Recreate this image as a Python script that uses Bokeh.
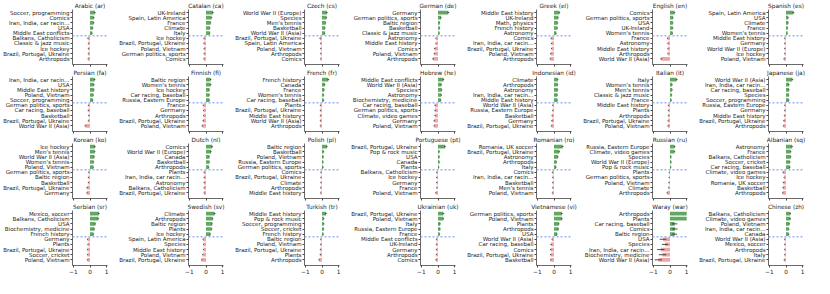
from bokeh.plotting import figure
from bokeh.layouts import gridplot
from bokeh.models import Range1d, FixedTicker, Span, ColumnDataSource
from bokeh.embed import file_html
from bokeh.resources import INLINE

titles = ["Arabic (ar)", "Catalan (ca)", "Czech (cs)", "German (de)", "Greek (el)", "English (en)", "Spanish (es)",
          "Persian (fa)", "Finnish (fi)", "French (fr)", "Hebrew (he)", "Indonesian (id)", "Italian (it)", "Japanese (ja)",
          "Korean (ko)", "Dutch (nl)", "Polish (pl)", "Portuguese (pt)", "Romanian (ro)", "Russian (ru)", "Albanian (sq)",
          "Serbian (sr)", "Swedish (sv)", "Turkish (tr)", "Ukrainian (uk)", "Vietnamese (vi)", "Waray (war)", "Chinese (zh)"]

labels = [
    ["Soccer, programming", "Comics", "Iran, India, car racin...", "USA", "Middle East conflicts",
     "Balkans, Catholicism", "Classic & jazz music", "Ice hockey", "Brazil, Portugal, Ukraine", "Arthropods"],
    ["UK-Ireland", "Spain, Latin America", "France", "Climate", "Italy",
     "Ice hockey", "Brazil, Portugal, Ukraine", "Poland, Vietnam", "German politics, sports", "Comics"],
    ["World War II (Europe)", "Species", "Men's tennis", "Basketball", "World War II (Asia)",
     "Brazil, Portugal, Ukraine", "Spain, Latin America", "Poland, Vietnam", "Arthropods", "Comics"],
    ["Germany", "German politics, sports", "Baltic region", "Basketball", "Classic & jazz music",
     "Astronomy", "Middle East history", "Comics", "Poland, Vietnam", "Arthropods"],
    ["Middle East history", "UK-Ireland", "Math, physics", "French history", "Astronomy",
     "Comics", "Iran, India, car racin...", "Brazil, Portugal, Ukraine", "Poland, Vietnam", "Arthropods"],
    ["Comics", "German politics, sports", "USA", "UK-Ireland", "Women's tennis",
     "France", "Astronomy", "Middle East history", "Arthropods", "World War II (Asia)"],
    ["Spain, Latin America", "USA", "Climate", "France", "Women's tennis",
     "Middle East history", "Germany", "World War II (Europe)", "Ice hockey", "Poland, Vietnam"],
    ["Iran, India, car racin...", "USA", "Middle East history", "Poland, Vietnam", "Soccer, programming",
     "German politics, sports", "Car racing, baseball", "Basketball", "Brazil, Portugal, Ukraine", "World War II (Asia)"],
    ["Baltic region", "Women's tennis", "Ice hockey", "Car racing, baseball", "Russia, Eastern Europe",
     "France", "Germany", "Arthropods", "Brazil, Portugal, Ukraine", "Poland, Vietnam"],
    ["French history", "Canada", "France", "Women's tennis", "Car racing, baseball",
     "Plants", "Brazil, Portugal, Ukraine", "Middle East history", "World War II (Asia)", "Arthropods"],
    ["Middle East conflicts", "World War II (Asia)", "Species", "Astronomy", "Biochemistry, medicine",
     "Car racing, baseball", "German politics, sports", "Climate, video games", "Germany", "Poland, Vietnam"],
    ["Climate", "Arthropods", "Astronomy", "Iran, India, car racin...", "Middle East history",
     "World War II (Asia)", "Russia, Eastern Europe", "Basketball", "Germany", "Brazil, Portugal, Ukraine"],
    ["Italy", "Women's tennis", "Men's tennis", "Classic & jazz music", "France",
     "Middle East history", "Plants", "Arthropods", "Brazil, Portugal, Ukraine", "Poland, Vietnam"],
    ["World War II (Asia)", "Iran, India, car racin...", "Car racing, baseball", "Species", "Soccer, programming",
     "Russia, Eastern Europe", "Germany", "Middle East history", "Brazil, Portugal, Ukraine", "Arthropods"],
    ["Ice hockey", "Men's tennis", "World War II (Asia)", "Women's tennis", "Poland, Vietnam",
     "German politics, sports", "Baltic region", "Basketball", "Brazil, Portugal, Ukraine", "Germany"],
    ["Comics", "World War II (Europe)", "Canada", "Basketball", "Arthropods",
     "Plants", "Iran, India, car racin...", "Astronomy", "Balkans, Catholicism", "Brazil, Portugal, Ukraine"],
    ["Baltic region", "Basketball", "Poland, Vietnam", "Russia, Eastern Europe", "German politics, sports",
     "Comics", "Brazil, Portugal, Ukraine", "Climate", "Arthropods", "Middle East history"],
    ["Brazil, Portugal, Ukraine", "Pop & rock music", "USA", "Canada", "Plants",
     "Balkans, Catholicism", "Ice hockey", "Germany", "France", "Poland, Vietnam"],
    ["Romania, UK soccer", "Brazil, Portugal, Ukraine", "Astronomy", "Arthropods", "Italy",
     "Comics", "Iran, India, car racin...", "Basketball", "Men's tennis", "Poland, Vietnam"],
    ["Russia, Eastern Europe", "Climate, video games", "Species", "World War II (Europe)", "Pop & rock music",
     "Plants", "German politics, sports", "Poland, Vietnam", "Climate", "Arthropods"],
    ["Astronomy", "France", "Balkans, Catholicism", "Soccer, cricket", "Car racing, baseball",
     "Climate, video games", "Ice hockey", "Romania, UK soccer", "Basketball", "Arthropods"],
    ["Mexico, soccer", "Balkans, Catholicism", "USA", "Biochemistry, medicine", "French history",
     "Germany", "Plants", "Brazil, Portugal, Ukraine", "Soccer, cricket", "Poland, Vietnam"],
    ["Climate", "Arthropods", "Baltic region", "Plants", "Ice hockey",
     "Spain, Latin America", "Species", "Middle East history", "Poland, Vietnam", "Brazil, Portugal, Ukraine"],
    ["Middle East history", "Pop & rock music", "Soccer, programming", "Soccer, cricket", "French history",
     "Baltic region", "Poland, Vietnam", "Brazil, Portugal, Ukraine", "Plants", "Arthropods"],
    ["Brazil, Portugal, Ukraine", "Poland, Vietnam", "Italy", "Russia, Eastern Europe", "France",
     "Middle East conflicts", "UK-Ireland", "Germany", "Arthropods", "Comics"],
    ["German politics, sports", "Poland, Vietnam", "Plants", "Arthropods", "USA",
     "World War II (Asia)", "Car racing, baseball", "Comics", "Brazil, Portugal, Ukraine", "Basketball"],
    ["Arthropods", "Plants", "Car racing, baseball", "Comics", "Baltic region",
     "USA", "Species", "Iran, India, car racin...", "Biochemistry, medicine", "World War II (Asia)"],
    ["Balkans, Catholicism", "Climate, video games", "Poland, Vietnam", "Iran, India, car racin...", "Canada",
     "World War II (Asia)", "Mexico, soccer", "Arthropods", "Italy", "Brazil, Portugal, Ukraine"],
]

values = [
    [0.30, 0.23, 0.22, 0.17, 0.13, -0.13, -0.10, -0.10, -0.10, -0.12],
    [0.42, 0.33, 0.28, 0.23, 0.23, -0.13, -0.13, -0.12, -0.12, -0.13],
    [0.30, 0.27, 0.22, 0.18, 0.17, -0.12, -0.08, -0.08, -0.08, -0.08],
    [0.62, 0.18, 0.10, 0.10, 0.08, -0.13, -0.13, -0.20, -0.22, -0.30],
    [0.33, 0.25, 0.22, 0.20, 0.13, -0.17, -0.15, -0.15, -0.20, -0.22],
    [0.27, 0.18, 0.17, 0.17, 0.15, -0.15, -0.13, -0.13, -0.13, -0.53],
    [0.45, 0.13, 0.13, 0.10, 0.08, -0.08, -0.08, -0.08, -0.08, -0.12],
    [0.28, 0.23, 0.23, 0.20, 0.17, -0.10, -0.10, -0.08, -0.10, -0.28],
    [0.28, 0.28, 0.20, 0.20, 0.20, -0.17, -0.15, -0.15, -0.17, -0.22],
    [0.38, 0.17, 0.13, 0.10, 0.10, -0.10, -0.10, -0.10, -0.10, -0.10],
    [0.33, 0.20, 0.22, 0.20, 0.17, -0.18, -0.18, -0.18, -0.23, -0.23],
    [0.23, 0.22, 0.22, 0.20, 0.20, -0.08, -0.08, -0.12, -0.13, -0.15],
    [0.40, 0.13, 0.13, 0.10, 0.08, -0.10, -0.10, -0.10, -0.12, -0.12],
    [0.38, 0.18, 0.18, 0.17, 0.17, -0.08, -0.08, -0.10, -0.13, -0.15],
    [0.30, 0.28, 0.25, 0.22, 0.20, -0.08, -0.10, -0.10, -0.18, -0.18],
    [0.37, 0.30, 0.20, 0.20, 0.17, -0.12, -0.12, -0.12, -0.12, -0.12],
    [0.30, 0.10, 0.08, 0.07, 0.07, -0.07, -0.07, -0.07, -0.08, -0.08],
    [0.42, 0.08, 0.08, 0.08, 0.05, -0.08, -0.08, -0.08, -0.08, -0.13],
    [0.52, 0.32, 0.23, 0.15, 0.12, -0.10, -0.08, -0.08, -0.08, -0.10],
    [0.28, 0.27, 0.07, 0.07, 0.05, -0.05, -0.05, -0.07, -0.08, -0.17],
    [0.37, 0.28, 0.28, 0.23, 0.23, -0.17, -0.12, -0.15, -0.18, -0.20],
    [0.53, 0.50, 0.32, 0.26, 0.21, -0.15, -0.13, -0.15, -0.15, -0.15],
    [0.52, 0.40, 0.37, 0.34, 0.26, -0.18, -0.15, -0.15, -0.20, -0.26],
    [0.24, 0.10, 0.10, 0.10, 0.08, -0.08, -0.08, -0.10, -0.10, -0.18],
    [0.32, 0.32, 0.13, 0.13, 0.10, -0.10, -0.10, -0.10, -0.10, -0.12],
    [0.47, 0.47, 0.29, 0.26, 0.18, -0.12, -0.18, -0.20, -0.20, -0.20],
    [1.00, 1.00, 0.28, 0.30, 0.28, -0.42, -0.30, -0.55, -0.45, -0.70],
    [0.26, 0.26, 0.20, 0.16, 0.16, -0.08, -0.08, -0.08, -0.08, -0.10],
]

errors = [
    [0.04, 0.04, 0.04, 0.03, 0.03, 0.03, 0.03, 0.03, 0.03, 0.03],
    [0.04, 0.04, 0.03, 0.03, 0.03, 0.03, 0.03, 0.03, 0.03, 0.03],
    [0.04, 0.03, 0.03, 0.03, 0.03, 0.04, 0.03, 0.03, 0.03, 0.03],
    [0.05, 0.04, 0.03, 0.03, 0.03, 0.03, 0.03, 0.04, 0.04, 0.05],
    [0.04, 0.03, 0.03, 0.03, 0.03, 0.04, 0.03, 0.03, 0.04, 0.04],
    [0.04, 0.03, 0.03, 0.03, 0.03, 0.03, 0.03, 0.03, 0.03, 0.06],
    [0.05, 0.03, 0.03, 0.03, 0.03, 0.03, 0.03, 0.03, 0.03, 0.04],
    [0.04, 0.04, 0.04, 0.03, 0.03, 0.03, 0.04, 0.03, 0.03, 0.05],
    [0.04, 0.04, 0.03, 0.03, 0.03, 0.03, 0.03, 0.03, 0.04, 0.04],
    [0.05, 0.03, 0.03, 0.03, 0.03, 0.03, 0.03, 0.03, 0.03, 0.03],
    [0.04, 0.04, 0.04, 0.04, 0.03, 0.04, 0.04, 0.04, 0.04, 0.04],
    [0.03, 0.03, 0.03, 0.03, 0.03, 0.03, 0.03, 0.03, 0.04, 0.04],
    [0.05, 0.03, 0.03, 0.03, 0.03, 0.03, 0.03, 0.03, 0.03, 0.04],
    [0.05, 0.03, 0.03, 0.03, 0.03, 0.03, 0.03, 0.03, 0.04, 0.04],
    [0.04, 0.04, 0.04, 0.03, 0.03, 0.03, 0.03, 0.03, 0.04, 0.04],
    [0.05, 0.04, 0.03, 0.03, 0.03, 0.03, 0.03, 0.03, 0.03, 0.03],
    [0.04, 0.03, 0.03, 0.03, 0.03, 0.03, 0.03, 0.03, 0.03, 0.03],
    [0.05, 0.03, 0.03, 0.03, 0.03, 0.03, 0.03, 0.03, 0.03, 0.04],
    [0.05, 0.04, 0.04, 0.03, 0.03, 0.03, 0.03, 0.03, 0.03, 0.03],
    [0.04, 0.04, 0.03, 0.03, 0.03, 0.03, 0.03, 0.03, 0.03, 0.04],
    [0.04, 0.04, 0.04, 0.04, 0.04, 0.04, 0.03, 0.04, 0.04, 0.04],
    [0.05, 0.04, 0.04, 0.04, 0.03, 0.03, 0.03, 0.03, 0.03, 0.04],
    [0.05, 0.04, 0.04, 0.04, 0.04, 0.03, 0.03, 0.03, 0.03, 0.04],
    [0.05, 0.04, 0.04, 0.03, 0.03, 0.03, 0.03, 0.03, 0.04, 0.04],
    [0.05, 0.04, 0.04, 0.03, 0.03, 0.03, 0.03, 0.03, 0.03, 0.04],
    [0.05, 0.05, 0.04, 0.04, 0.04, 0.03, 0.04, 0.04, 0.04, 0.04],
    [0.00, 0.00, 0.16, 0.16, 0.14, 0.20, 0.18, 0.22, 0.22, 0.22],
    [0.04, 0.04, 0.04, 0.04, 0.04, 0.03, 0.03, 0.03, 0.03, 0.04],
]

x_ticks = [-1, 0, 1]

FONT = "DejaVu Sans"
GREEN = "#62a862"
RED = "#eba6a6"
AXIS = "#444444"
NCOL = 7


def make_panel(k, bottom):
    vals = values[k]
    labs = labels[k]
    errs = errors[k]
    ys = list(range(len(vals)))
    src = ColumnDataSource(dict(
        y=ys, v=vals,
        lo=[v - e for v, e in zip(vals, errs)],
        hi=[v + e for v, e in zip(vals, errs)],
        c=[GREEN if v >= 0 else RED for v in vals],
    ))
    p = figure(width=116, height=77 if bottom else 67,
               x_range=Range1d(-1.05, 1.05), y_range=Range1d(10.1, -0.6),
               output_backend="svg", toolbar_location=None, title=titles[k],
               min_border_left=70, min_border_right=9, min_border_top=8,
               min_border_bottom=13 if bottom else 3)
    p.title.align = "center"
    p.title.text_font = FONT
    p.title.text_font_size = "5.8px"
    p.title.text_font_style = "normal"
    p.title.text_color = "#222222"
    p.title.standoff = 1
    p.title.offset = 0
    p.hbar(y="y", left=0, right="v", height=0.72, fill_color="c", line_color=None, source=src)
    p.segment(x0="lo", y0="y", x1="hi", y1="y", line_color="#222222", line_width=0.8, source=src)
    p.add_layout(Span(location=4.5, dimension="width", line_color="#9db4f2",
                      line_dash="2 2", line_width=1.5))
    p.xgrid.visible = False
    p.ygrid.visible = False
    p.outline_line_color = None
    p.background_fill_color = "white"
    p.border_fill_color = "white"

    ya = p.yaxis[0]
    ya.ticker = FixedTicker(ticks=ys)
    ya.major_label_overrides = {i: t for i, t in enumerate(labs)}
    ya.major_label_text_font = FONT
    ya.major_label_text_font_size = "5.5px"
    ya.major_label_text_color = "#222222"
    ya.major_label_standoff = 1
    ya.major_tick_out = 2
    ya.major_tick_in = 0
    ya.minor_tick_line_color = None
    ya.axis_line_color = AXIS
    ya.major_tick_line_color = AXIS
    ya.axis_line_width = 0.8

    xa = p.xaxis[0]
    xa.ticker = FixedTicker(ticks=x_ticks)
    xa.major_tick_out = 2
    xa.major_tick_in = 0
    xa.minor_tick_line_color = None
    xa.axis_line_color = AXIS
    xa.major_tick_line_color = AXIS
    xa.axis_line_width = 0.8
    xa.major_label_text_font = FONT
    xa.major_label_text_font_size = "5.8px"
    xa.major_label_standoff = 1
    xa.major_label_text_color = "#222222"
    if not bottom:
        xa.major_label_overrides = {t: "" for t in x_ticks}
    else:
        xa.major_label_overrides = {-1: "\u22121", 0: "0", 1: "1"}
    return p


rows = []
nrows = len(titles) // NCOL
for r in range(nrows):
    rows.append([make_panel(r * NCOL + c, r == nrows - 1) for c in range(NCOL)])

grid = gridplot(rows, toolbar_location=None)
open("out.html", "w").write(file_html(grid, INLINE))
